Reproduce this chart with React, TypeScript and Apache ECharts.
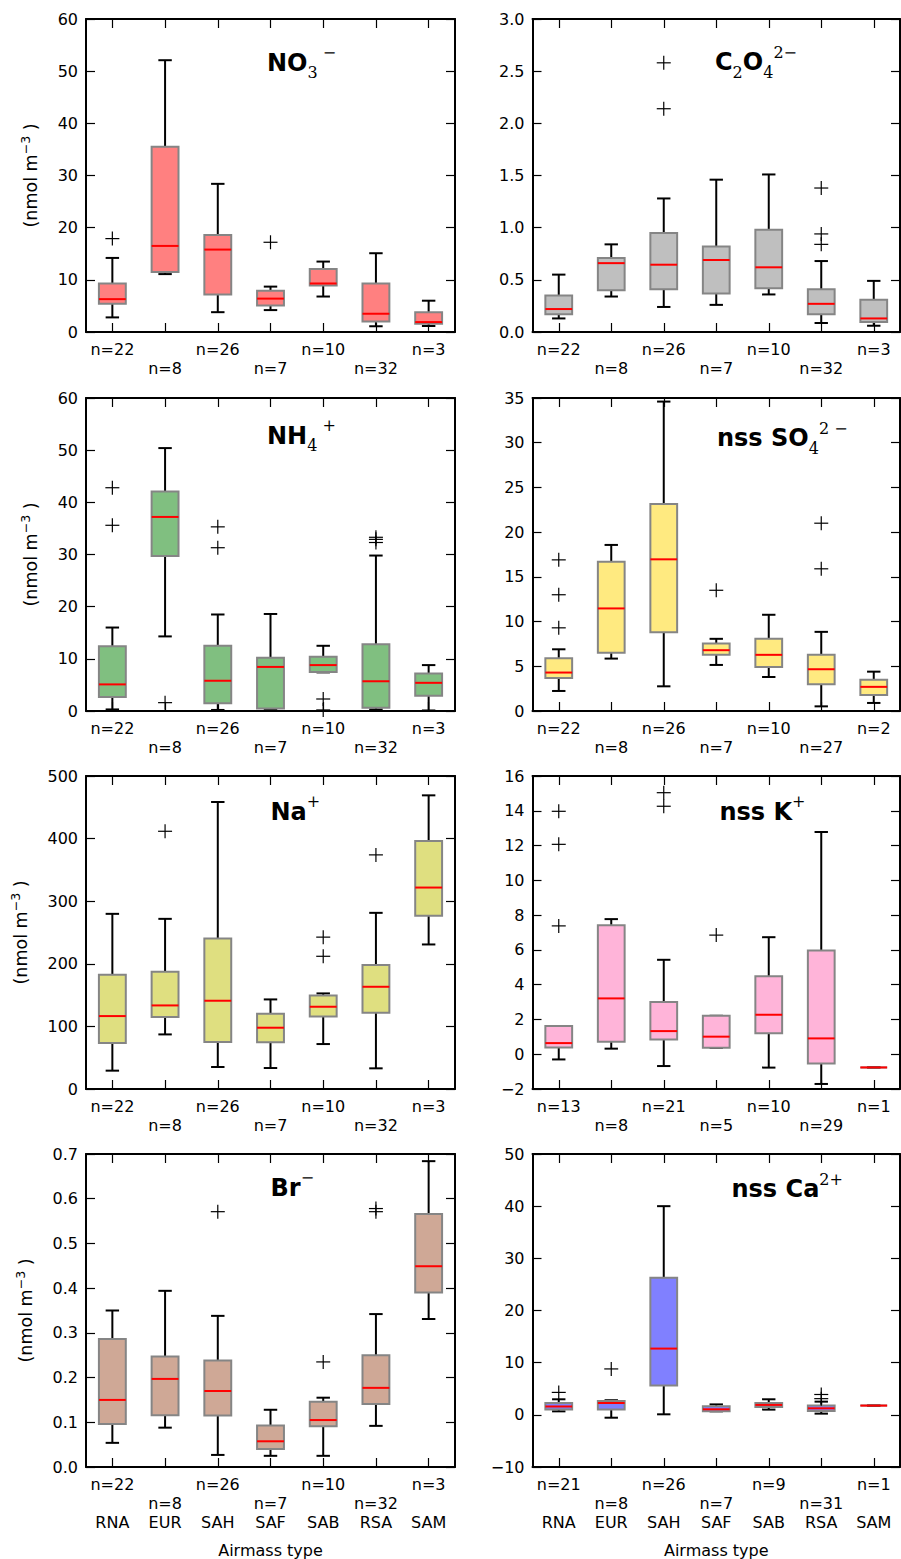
import React, { useEffect, useRef } from 'react';
import * as echarts from 'echarts';

// ---------------- data ----------------
const categories = ['RNA', 'EUR', 'SAH', 'SAF', 'SAB', 'RSA', 'SAM'];

// each box: [lower whisker, Q1, median, Q3, upper whisker]
const no3Stats = [
  [2.8, 5.4, 6.3, 9.3, 14.2],
  [11.1, 11.5, 16.5, 35.5, 52.1],
  [3.8, 7.2, 15.8, 18.6, 28.4],
  [4.2, 5.1, 6.4, 7.9, 8.7],
  [6.8, 8.9, 9.3, 12.1, 13.5],
  [1.1, 2.0, 3.5, 9.3, 15.1],
  [1.15, 1.6, 1.9, 3.8, 6.0],
];
const no3Outliers = [[0, 17.9], [3, 17.2]];
const no3Counts = [22, 8, 26, 7, 10, 32, 3];

const c2o4Stats = [
  [0.13, 0.17, 0.22, 0.35, 0.55],
  [0.34, 0.4, 0.66, 0.71, 0.84],
  [0.24, 0.41, 0.645, 0.95, 1.28],
  [0.26, 0.37, 0.69, 0.82, 1.46],
  [0.36, 0.42, 0.62, 0.98, 1.51],
  [0.086, 0.17, 0.27, 0.41, 0.68],
  [0.06, 0.096, 0.13, 0.31, 0.49],
];
const c2o4Outliers = [[2, 2.14], [2, 2.58], [5, 0.84], [5, 0.94], [5, 1.38]];
const c2o4Counts = [22, 8, 26, 7, 10, 32, 3];

const nh4Stats = [
  [0.3, 2.7, 5.1, 12.4, 16.0],
  [14.3, 29.7, 37.2, 42.1, 50.4],
  [0.2, 1.5, 5.8, 12.5, 18.5],
  [0.3, 0.5, 8.45, 10.2, 18.6],
  [7.4, 7.5, 8.8, 10.4, 12.5],
  [0.3, 0.6, 5.7, 12.8, 29.8],
  [0.1, 2.9, 5.4, 7.2, 8.8],
];
const nh4Outliers = [[0, 35.6], [0, 42.8], [1, 1.6], [2, 31.3], [2, 35.3], [4, 2.3], [4, 0.2], [5, 32.3], [5, 32.9], [5, 33.3]];
const nh4Counts = [22, 8, 26, 7, 10, 32, 3];

const so4Stats = [
  [2.24, 3.7, 4.3, 5.9, 6.9],
  [5.86, 6.5, 11.47, 16.7, 18.57],
  [2.76, 8.8, 16.96, 23.16, 34.6],
  [5.15, 6.3, 6.8, 7.55, 8.07],
  [3.8, 4.93, 6.28, 8.07, 10.76],
  [0.52, 3.0, 4.67, 6.28, 8.85],
  [0.9, 1.8, 2.7, 3.5, 4.4],
];
const so4Outliers = [[0, 9.3], [0, 13.0], [0, 16.9], [3, 13.5], [5, 15.9], [5, 21.0]];
const so4Counts = [22, 8, 26, 7, 10, 27, 2];

const naStats = [
  [29.3, 73.4, 116.5, 182.4, 279.8],
  [87.2, 114.9, 133.5, 187.2, 271.8],
  [35.1, 75, 141, 240.4, 458.5],
  [33.5, 74.5, 97.9, 120.2, 143.1],
  [71.8, 116, 131.4, 149.5, 152.7],
  [33, 121.8, 163.3, 197.9, 281.4],
  [230.9, 276.6, 321.8, 396.3, 469.1],
];
const naOutliers = [[1, 411.7], [4, 212], [4, 242.6], [5, 374]];
const naCounts = [22, 8, 26, 7, 10, 32, 3];

const kStats = [
  [-0.3, 0.39, 0.64, 1.62, 1.62],
  [0.32, 0.72, 3.21, 7.42, 7.77],
  [-0.68, 0.85, 1.33, 3.0, 5.43],
  [0.37, 0.37, 1.01, 2.21, 2.21],
  [-0.77, 1.2, 2.27, 4.49, 6.73],
  [-1.71, -0.53, 0.91, 5.97, 12.78],
  [-0.76, -0.76, -0.76, -0.76, -0.76],
];
const kOutliers = [[0, 7.38], [0, 12.07], [0, 13.97], [2, 14.26], [2, 15.04], [3, 6.85]];
const kCounts = [13, 8, 21, 5, 10, 29, 1];

const brStats = [
  [0.054, 0.096, 0.15, 0.286, 0.35],
  [0.088, 0.116, 0.197, 0.247, 0.394],
  [0.027, 0.115, 0.17, 0.238, 0.338],
  [0.025, 0.04, 0.0575, 0.093, 0.128],
  [0.025, 0.091, 0.105, 0.146, 0.155],
  [0.092, 0.141, 0.177, 0.25, 0.342],
  [0.331, 0.39, 0.449, 0.566, 0.684],
];
const brOutliers = [[2, 0.571], [4, 0.235], [5, 0.571], [5, 0.578]];
const brCounts = [22, 8, 26, 7, 10, 32, 3];

const caStats = [
  [0.67, 1.0, 1.6, 2.27, 2.98],
  [-0.55, 1.0, 2.27, 2.65, 2.8],
  [0.1, 5.6, 12.7, 26.3, 40.0],
  [0.67, 0.67, 1.06, 1.63, 2.0],
  [1.0, 1.5, 1.9, 2.27, 2.98],
  [0.23, 0.73, 1.25, 1.77, 2.53],
  [1.77, 1.77, 1.77, 1.77, 1.77],
];
const caOutliers = [[0, 4.3], [1, 8.8], [5, 3.1], [5, 3.9]];
const caCounts = [21, 8, 26, 7, 9, 31, 1];

// ---------------- layout / style ----------------
const FONT = 'DejaVu Sans';
const colLeft = [86, 532.5];
const colWidth = [369, 367.5];
const rowTop = [19, 398, 776, 1154];
const plotHeight = 313;

const panels = [
  { stats: no3Stats, outliers: no3Outliers, counts: no3Counts, color: '#ff8080', min: 0, max: 60, interval: 10, dec: 0,
    title: '{b|NO}{sub|3}{sup| −}', tx: 267, ty: 62.5 },
  { stats: c2o4Stats, outliers: c2o4Outliers, counts: c2o4Counts, color: '#bfbfbf', min: 0, max: 3, interval: 0.5, dec: 1,
    title: '{b|C}{sub|2}{b|O}{sub|4}{sup|2−}', tx: 715, ty: 62.3 },
  { stats: nh4Stats, outliers: nh4Outliers, counts: nh4Counts, color: '#80bf80', min: 0, max: 60, interval: 10, dec: 0,
    title: '{b|NH}{sub|4}{sup| +}', tx: 267, ty: 435.8 },
  { stats: so4Stats, outliers: so4Outliers, counts: so4Counts, color: '#ffea80', min: 0, max: 35, interval: 5, dec: 0,
    title: '{b|nss SO}{sub|4}{sup|2 −}', tx: 717, ty: 438 },
  { stats: naStats, outliers: naOutliers, counts: naCounts, color: '#dfdf80', min: 0, max: 500, interval: 100, dec: 0,
    title: '{b|Na}{sup|+}', tx: 270.5, ty: 811.7 },
  { stats: kStats, outliers: kOutliers, counts: kCounts, color: '#ffb4d9', min: -2, max: 16, interval: 2, dec: 0,
    title: '{b|nss K}{sup|+}', tx: 719.5, ty: 811.7 },
  { stats: brStats, outliers: brOutliers, counts: brCounts, color: '#cfa896', min: 0, max: 0.7, interval: 0.1, dec: 1,
    title: '{b|Br}{sup|−}', tx: 270.5, ty: 1187.7 },
  { stats: caStats, outliers: caOutliers, counts: caCounts, color: '#8080ff', min: -10, max: 50, interval: 10, dec: 0,
    title: '{b|nss Ca}{sup|2+}', tx: 731.5, ty: 1189 },
];

const yLabelX = [30.5, 30.5, 21, 25.5];

function makeBoxRenderer(fill: string) {
  return (_params: any, api: any) => {
    const x = api.value(0);
    const pMin = api.coord([x, api.value(1)]);
    const pQ1 = api.coord([x, api.value(2)]);
    const pMed = api.coord([x, api.value(3)]);
    const pQ3 = api.coord([x, api.value(4)]);
    const pMax = api.coord([x, api.value(5)]);
    const cw = api.size([1, 0])[0];
    const bw = cw * 0.51;
    const capW = bw * 0.5;
    const cx = pMin[0];
    const black = { stroke: '#000', lineWidth: 2 };
    return {
      type: 'group',
      children: [
        { type: 'line', shape: { x1: cx, y1: pQ1[1], x2: cx, y2: pMin[1] }, style: black },
        { type: 'line', shape: { x1: cx, y1: pQ3[1], x2: cx, y2: pMax[1] }, style: black },
        { type: 'line', shape: { x1: cx - capW / 2, y1: pMin[1], x2: cx + capW / 2, y2: pMin[1] }, style: black },
        { type: 'line', shape: { x1: cx - capW / 2, y1: pMax[1], x2: cx + capW / 2, y2: pMax[1] }, style: black },
        {
          type: 'rect',
          shape: { x: cx - bw / 2, y: pQ3[1], width: bw, height: pQ1[1] - pQ3[1] },
          style: { fill, stroke: '#858585', lineWidth: 2 },
        },
        { type: 'line', shape: { x1: cx - bw / 2, y1: pMed[1], x2: cx + bw / 2, y2: pMed[1] }, style: { stroke: '#ff0000', lineWidth: 2 } },
      ],
    };
  };
}

function renderCross(_params: any, api: any) {
  const p = api.coord([api.value(0), api.value(1)]);
  const s = 7;
  const st = { stroke: '#000', lineWidth: 1.2 };
  return {
    type: 'group',
    children: [
      { type: 'line', shape: { x1: p[0] - s, y1: p[1], x2: p[0] + s, y2: p[1] }, style: st },
      { type: 'line', shape: { x1: p[0], y1: p[1] - s, x2: p[0], y2: p[1] + s }, style: st },
    ],
  };
}

function fmtNum(v: number, dec: number) {
  return v.toFixed(dec).replace('-', '\u2212');
}

function buildOption() {
  const grid: any[] = [];
  const xAxis: any[] = [];
  const yAxis: any[] = [];
  const series: any[] = [];
  const graphic: any[] = [];

  const axisLine = { show: true, onZero: false, lineStyle: { color: '#000', width: 2 } };
  const axisTick = { show: true, inside: true, length: 9, alignWithLabel: true, lineStyle: { color: '#000', width: 1.2 } };

  panels.forEach((p, i) => {
    const row = Math.floor(i / 2);
    const col = i % 2;
    grid.push({ left: colLeft[col], top: rowTop[row], width: colWidth[col], height: plotHeight, containLabel: false });

    const counts = p.counts;
    xAxis.push({
      gridIndex: i,
      type: 'category',
      data: categories,
      position: 'bottom',
      boundaryGap: true,
      axisLine,
      axisTick,
      splitLine: { show: false },
      axisLabel: {
        show: true,
        interval: 0,
        margin: 8,
        fontFamily: FONT,
        fontSize: 16,
        lineHeight: 19,
        color: '#000',
        formatter: (value: string, idx: number) => {
          const n = `n=${counts[idx]}`;
          if (row < 3) return idx % 2 === 0 ? n : ` \n${n}`;
          return idx % 2 === 0 ? `${n}\n \n${value}` : ` \n${n}\n${value}`;
        },
      },
    });
    xAxis.push({
      gridIndex: i,
      type: 'category',
      data: categories,
      position: 'top',
      boundaryGap: true,
      axisLine,
      axisTick,
      axisLabel: { show: false },
      splitLine: { show: false },
    });
    yAxis.push({
      gridIndex: i,
      type: 'value',
      min: p.min,
      max: p.max,
      interval: p.interval,
      position: 'left',
      axisLine,
      axisTick: { ...axisTick, alignWithLabel: false },
      splitLine: { show: false },
      axisLabel: {
        show: true,
        margin: 8,
        fontFamily: FONT,
        fontSize: 16,
        color: '#000',
        formatter: (v: number) => fmtNum(v, p.dec),
      },
    });
    yAxis.push({
      gridIndex: i,
      type: 'value',
      min: p.min,
      max: p.max,
      interval: p.interval,
      position: 'right',
      axisLine,
      axisTick: { ...axisTick, alignWithLabel: false },
      splitLine: { show: false },
      axisLabel: { show: false },
    });

    series.push({
      type: 'custom',
      xAxisIndex: 2 * i,
      yAxisIndex: 2 * i,
      data: p.stats.map((s, k) => [k, ...s]),
      encode: { x: 0, y: [1, 2, 3, 4, 5] },
      renderItem: makeBoxRenderer(p.color),
      silent: true,
      z: 2,
    });
    series.push({
      type: 'custom',
      xAxisIndex: 2 * i,
      yAxisIndex: 2 * i,
      data: p.outliers,
      encode: { x: 0, y: 1 },
      renderItem: renderCross,
      silent: true,
      z: 3,
    });

    graphic.push({
      type: 'text',
      x: p.tx,
      y: p.ty - 18,
      silent: true,
      style: {
        text: p.title,
        align: 'left',
        verticalAlign: 'top',
        rich: {
          b: { fontFamily: FONT, fontWeight: 'bold', fontSize: 24, lineHeight: 36, verticalAlign: 'middle', fill: '#000' },
          sub: { fontFamily: 'DejaVu Serif', fontSize: 16, lineHeight: 16, verticalAlign: 'bottom', fill: '#000' },
          sup: { fontFamily: 'DejaVu Serif', fontSize: 16, lineHeight: 16, verticalAlign: 'top', fill: '#000' },
        },
      },
    });

    if (col === 0) {
      graphic.push({
        type: 'text',
        x: yLabelX[row],
        y: rowTop[row] + plotHeight / 2,
        rotation: Math.PI / 2,
        silent: true,
        style: {
          text: '{a|(nmol m}{s|\u22123}{a| )}',
          align: 'center',
          verticalAlign: 'middle',
          rich: {
            a: { fontFamily: FONT, fontSize: 17.5, lineHeight: 24, verticalAlign: 'middle', fill: '#000' },
            s: { fontFamily: FONT, fontSize: 12.5, lineHeight: 12, verticalAlign: 'top', fill: '#000' },
          },
        },
      });
    }
    if (row === 3) {
      graphic.push({
        type: 'text',
        x: colLeft[col] + colWidth[col] / 2,
        y: 1550,
        silent: true,
        style: { text: 'Airmass type', fontFamily: FONT, fontSize: 16, fill: '#000', align: 'center', verticalAlign: 'middle' },
      });
    }
  });

  return { animation: false, backgroundColor: '#fff', grid, xAxis, yAxis, series, graphic };
}

export default function App() {
  const ref = useRef<HTMLDivElement>(null);
  useEffect(() => {
    document.body.style.margin = '0';
    if (!ref.current) return;
    const chart = echarts.init(ref.current, undefined, { renderer: 'svg' });
    chart.setOption(buildOption() as any);
    return () => chart.dispose();
  }, []);
  return <div ref={ref} style={{ width: 901, height: 1559 }} />;
}
